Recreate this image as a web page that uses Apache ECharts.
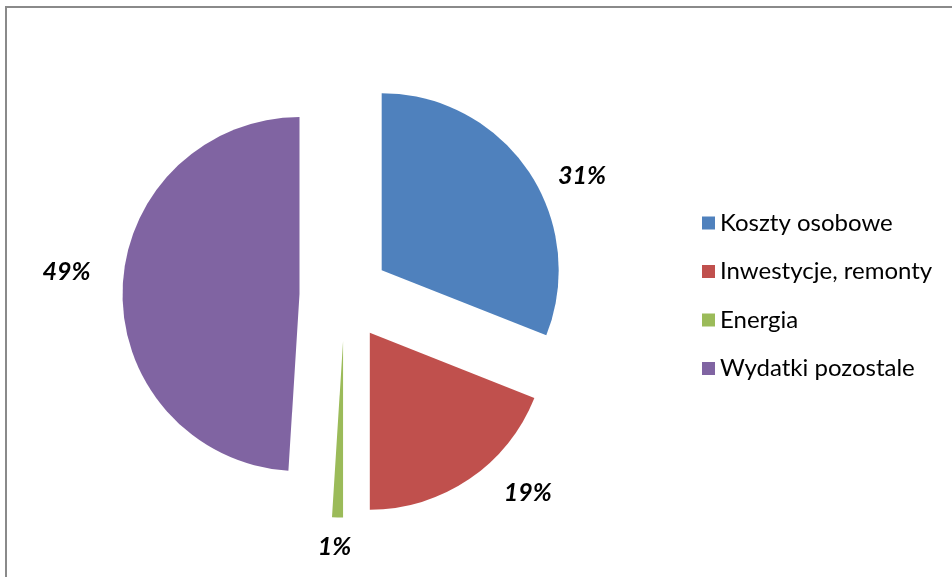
<!DOCTYPE html>
<html>
<head>
<meta charset="utf-8">
<script src="https://cdn.jsdelivr.net/npm/echarts@6/dist/echarts.min.js"></script>
<style>
  html, body { margin: 0; padding: 0; background: #fff; }
  #chart { width: 952px; height: 577px; }
</style>
</head>
<body>
<div id="chart"></div>
<script>
// udział kosztów (%)
var categories = ['Koszty osobowe', 'Inwestycje, remonty', 'Energia', 'Wydatki pozostale']
var values = [31, 19, 1, 49]
var colors = ['#4F81BD', '#C0504D', '#9BBB59', '#8064A2']
// odległość etykiet od wycinka (Excel "best fit")
var labelLen = [0, 17, 30, 22]
var labelLen2 = [49, 44, 0, 29]
var labelShift = [[0, 5], [0, 0], [3, 0], [0, -16]]

var chart = echarts.init(document.getElementById('chart'))

var pieData = categories.map(function (name, i) {
  return {
    name: name,
    value: values[i],
    selected: true,
    itemStyle: { color: colors[i] },
    select: { itemStyle: { color: colors[i] } },
    labelLine: { show: false, length: labelLen[i], length2: labelLen2[i] }
  }
})

chart.setOption({
  animation: false,
  graphic: [{
    type: 'rect',
    shape: { x: 6, y: 7, width: 1000, height: 700 },
    style: { fill: 'none', stroke: '#8a8a8a', lineWidth: 2 },
    silent: true
  }],
  legend: {
    orient: 'vertical',
    left: 697,
    top: 206,
    itemWidth: 13,
    itemHeight: 13,
    itemGap: 24.5,
    icon: 'rect',
    selectedMode: false,
    textStyle: {
      fontFamily: 'Lato',
      fontSize: 24,
      color: '#000'
    },
    data: categories
  },
  series: [{
    type: 'pie',
    center: [344.5, 295.5],
    radius: 177,
    startAngle: 90,
    clockwise: true,
    selectedMode: 'multiple',
    selectedOffset: 45,
    avoidLabelOverlap: false,
    emphasis: { disabled: true },
    label: {
      show: true,
      position: 'outside',
      formatter: '{d}%',
      fontFamily: 'Lato',
      fontSize: 25,
      fontWeight: 'bold',
      fontStyle: 'italic',
      color: '#000'
    },
    labelLayout: function (params) {
      var s = labelShift[params.dataIndex]
      return { align: 'center', dx: s[0], dy: s[1] }
    },
    data: pieData
  }]
})
</script>
</body>
</html>
